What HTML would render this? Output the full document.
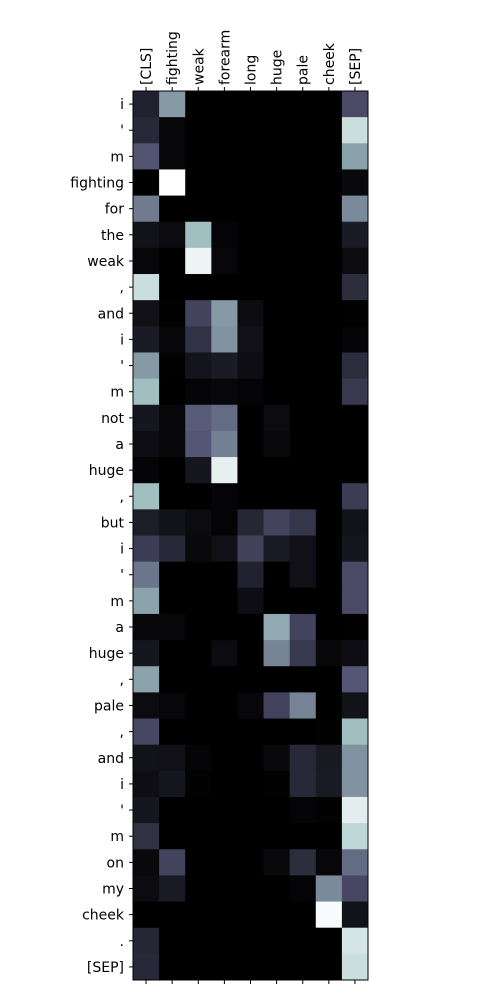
<!DOCTYPE html>
<html><head><meta charset="utf-8"><style>
body{margin:0;background:#fff;width:500px;height:1000px;overflow:hidden}
svg text{font-family:"DejaVu Sans","Liberation Sans",sans-serif;font-size:14px;fill:#000}
</style></head><body>
<svg id="chart" width="500" height="1000" xmlns="http://www.w3.org/2000/svg"></svg>
<script>
const colLabels=["[CLS]","fighting","weak","forearm","long","huge","pale","cheek","[SEP]"];
const rowLabels=["i","'","m","fighting","for","the","weak",",","and","i","'","m","not","a","huge",",","but","i","'","m","a","huge",",","pale",",","and","i","'","m","on","my","cheek",".","[SEP]"];
const values=[
[0.15,0.6,0,0,0,0,0,0,0.33],
[0.18,0.03,0,0,0,0,0,0,0.85],
[0.37,0.03,0,0,0,0,0,0,0.62],
[0,1.0,0,0,0,0,0,0,0.04],
[0.5,0,0,0,0,0,0,0,0.55],
[0.08,0.05,0.72,0.02,0,0,0,0,0.12],
[0.03,0,0.95,0.03,0,0,0,0,0.05],
[0.85,0,0,0,0,0,0,0,0.2],
[0.07,0.01,0.3,0.6,0.05,0,0,0,0.01],
[0.12,0.03,0.23,0.58,0.07,0,0,0,0.02],
[0.6,0.01,0.09,0.12,0.06,0,0,0,0.2],
[0.72,0,0.02,0.03,0.02,0,0,0,0.25],
[0.1,0.03,0.4,0.45,0,0.05,0,0,0],
[0.06,0.03,0.38,0.52,0,0.04,0,0,0],
[0.02,0,0.1,0.93,0,0,0,0,0],
[0.72,0,0,0.02,0,0,0,0,0.27],
[0.13,0.08,0.05,0.02,0.17,0.3,0.24,0,0.08],
[0.27,0.18,0.04,0.07,0.29,0.12,0.07,0,0.1],
[0.48,0,0,0,0.15,0,0.07,0,0.33],
[0.63,0,0,0,0.06,0,0,0,0.33],
[0.03,0.03,0,0,0,0.65,0.3,0,0.01],
[0.1,0,0,0.05,0,0.53,0.25,0.03,0.06],
[0.63,0,0,0,0,0,0,0,0.38],
[0.05,0.03,0,0,0.03,0.3,0.53,0,0.08],
[0.32,0,0,0,0,0,0,0.01,0.72],
[0.08,0.07,0.02,0,0,0.04,0.18,0.11,0.58],
[0.06,0.1,0.01,0,0,0.01,0.18,0.12,0.58],
[0.1,0,0,0,0,0,0.02,0.01,0.92],
[0.22,0,0,0,0,0,0,0,0.82],
[0.04,0.3,0,0,0,0.04,0.2,0.03,0.45],
[0.05,0.12,0,0,0,0,0.02,0.55,0.32],
[0,0,0,0,0,0,0,0.98,0.08],
[0.17,0,0,0,0,0,0,0,0.88],
[0.18,0,0,0,0,0,0,0,0.85]
];
const NS="http://www.w3.org/2000/svg";
const svg=document.getElementById('chart');
const L=133,R=368,T=91,B=980;
const cw=(R-L)/colLabels.length, rh=(B-T)/rowLabels.length;
const xS=i=>L+i*cw, yS=j=>T+j*rh;
function interp(pts,v){for(let k=1;k<pts.length;k++){if(v<=pts[k][0]){const a=pts[k-1],b=pts[k];return a[1]+(b[1]-a[1])*(v-a[0])/(b[0]-a[0]);}}return 1;}
function bone(v){v=Math.max(0,Math.min(1,v));
const r=interp([[0,0],[0.746032,0.652778],[1,1]],v);
const g=interp([[0,0],[0.365079,0.319444],[0.746032,0.777778],[1,1]],v);
const b=interp([[0,0],[0.365079,0.444444],[1,1]],v);
return `rgb(${Math.round(r*255)},${Math.round(g*255)},${Math.round(b*255)})`;}
function mk(t,a){const e=document.createElementNS(NS,t);for(const k in a)e.setAttribute(k,a[k]);svg.appendChild(e);return e;}
values.forEach((row,j)=>row.forEach((v,i)=>{
 const c=mk('rect',{x:xS(i),y:yS(j),width:cw+0.5,height:rh+0.5,fill:bone(v)});
 
 
}));
const f=mk('rect',{x:L,y:T,width:R-L,height:B-T,fill:'none',stroke:'#000','stroke-width':1});


colLabels.forEach((s,i)=>{
 const cx=xS(i)+cw/2;
 mk('line',{x1:cx,y1:T,x2:cx,y2:T-4,stroke:'#000'});
 mk('line',{x1:cx,y1:B,x2:cx,y2:B+4,stroke:'#000'});
 const t=mk('text',{x:0,y:0,transform:`translate(${cx+5},${T-6}) rotate(-90)`});
 t.textContent=s;
 
 
});
rowLabels.forEach((s,j)=>{
 const cy=yS(j)+rh/2;
 mk('line',{x1:L,y1:cy,x2:L-4,y2:cy,stroke:'#000'});
 const t=mk('text',{x:L-9,y:cy+5,'text-anchor':'end'});
 t.textContent=s;
 
 
});
</script>
</body></html>
